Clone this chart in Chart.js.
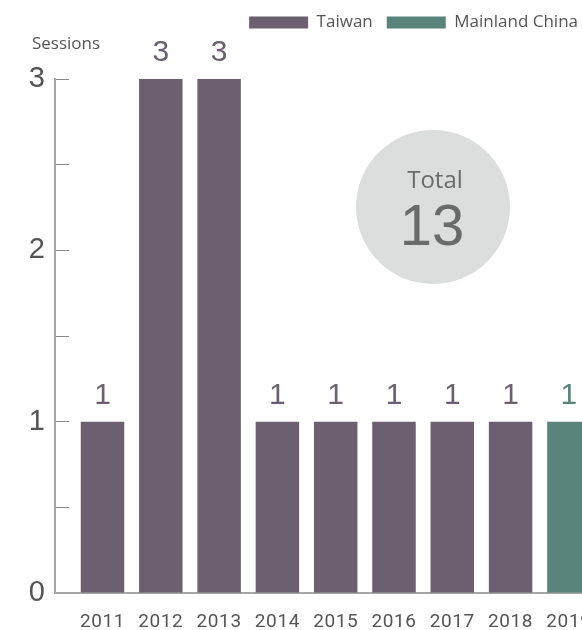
<!DOCTYPE html>
<html>
<head>
<meta charset="utf-8">
<script src="https://cdn.jsdelivr.net/npm/chart.js@4.4.1/dist/chart.umd.min.js"></script>
<style>
  html, body { margin: 0; padding: 0; background: #fff; }
  #wrap { width: 582px; height: 630px; position: relative; overflow: hidden; }
</style>
</head>
<body>
<div id="wrap"><canvas id="grafico" width="582" height="630"></canvas></div>
<script>
// Datos
const anios = [2011, 2012, 2013, 2014, 2015, 2016, 2017, 2018, 2019];
const taiwan = [1, 3, 3, 1, 1, 1, 1, 1, null];
const chinaContinental = [null, null, null, null, null, null, null, null, 1];
const ticksEje = [0, 1, 2, 3];

const colorTaiwan = "#6b5f70";
const colorChina = "#5a837b";

function puntos(valores) {
    return anios.map((a, i) => ({ x: a, y: valores[i] })).filter(p => p.y !== null);
}

// Más espacio debajo de la leyenda y leyenda algo más a la derecha
const margenLeyenda = {
    id: "margenLeyenda",
    beforeInit(chart) {
        const fitOriginal = chart.legend.fit;
        chart.legend.fit = function() {
            fitOriginal.bind(chart.legend)();
            this.height += 38;
        };
    },
    afterLayout(chart) {
        chart.legend.left += 10;
        chart.legend.right += 10;
        // un poco de espaciado entre letras en las etiquetas del eje x
        const ex = chart.scales.x;
        if (!ex._conEspaciado) {
            const dibujar = ex.drawLabels;
            ex.drawLabels = function(area) {
                chart.ctx.save();
                chart.ctx.letterSpacing = "0.6px";
                dibujar.call(this, area);
                chart.ctx.restore();
            };
            ex._conEspaciado = true;
        }
    }
};

// Etiquetas con el valor encima de cada barra
const etiquetasBarras = {
    id: "etiquetasBarras",
    afterDatasetsDraw(chart) {
        const ctx = chart.ctx;
        chart.data.datasets.forEach((ds, i) => {
            const meta = chart.getDatasetMeta(i);
            meta.data.forEach((bar, j) => {
                const p = ds.data[j];
                ctx.save();
                ctx.font = '30px "Liberation Sans"';
                ctx.fillStyle = ds.backgroundColor;
                ctx.textAlign = "center";
                ctx.textBaseline = "alphabetic";
                ctx.fillText(String(p.y), bar.x, bar.y - 18);
                ctx.restore();
            });
        });
    }
};

// Círculo con el total y el texto "Sessions"
const adornos = {
    id: "adornos",
    beforeDatasetsDraw(chart) {
        const ctx = chart.ctx;
        const total = taiwan.concat(chinaContinental).reduce((s, v) => s + (v || 0), 0);
        ctx.save();
        ctx.beginPath();
        ctx.arc(433, 207, 77, 0, Math.PI * 2);
        ctx.fillStyle = "#dcdddd";
        ctx.fill();
        ctx.fillStyle = "#6a6a6a";
        ctx.textAlign = "center";
        ctx.textBaseline = "alphabetic";
        ctx.font = '24px "Open Sans"';
        ctx.fillText("Total", 435, 188);
        ctx.font = '58px "Liberation Sans"';
        ctx.fillText(String(total), 432, 245);
        ctx.restore();

        ctx.save();
        ctx.fillStyle = "#555";
        ctx.font = '17px "Open Sans"';
        ctx.textAlign = "left";
        ctx.textBaseline = "alphabetic";
        ctx.fillText("Sessions", 32, 49);
        ctx.restore();
    }
};

const chart = new Chart(document.getElementById("grafico").getContext("2d"), {
    type: "bar",
    data: {
        datasets: [
            {
                label: "Taiwan",
                data: puntos(taiwan),
                backgroundColor: colorTaiwan,
                borderWidth: 0
            },
            {
                label: "Mainland China",
                data: puntos(chinaContinental),
                backgroundColor: colorChina,
                borderWidth: 0
            }
        ]
    },
    options: {
        responsive: false,
        animation: false,
        devicePixelRatio: 1,
        layout: { padding: { top: 0, left: 0, right: 0, bottom: 0 } },
        datasets: {
            bar: { grouped: false, categoryPercentage: 1, barPercentage: 0.746 }
        },
        plugins: {
            tooltip: { enabled: false },
            legend: {
                position: "top",
                align: "end",
                labels: {
                    boxWidth: 59,
                    boxHeight: 12,
                    padding: 14,
                    color: "#555",
                    font: { family: '"Open Sans"', size: 17 }
                }
            }
        },
        scales: {
            x: {
                type: "linear",
                offset: false,
                min: 2010.185,
                max: 2019.225,
                grid: { display: false, drawTicks: false },
                border: { display: true, color: "#a5a5a5", width: 2 },
                ticks: {
                    stepSize: 1,
                    includeBounds: false,
                    autoSkip: false,
                    maxRotation: 0,
                    padding: 18,
                    color: "#555",
                    font: { family: "Roboto", size: 19 },
                    callback: v => String(v)
                },
                afterFit(s) {
                    s.height = 37;
                    s.paddingLeft = 0;
                    s.paddingRight = 0;
                }
            },
            y: {
                min: 0,
                max: 3,
                grid: {
                    display: true,
                    drawOnChartArea: false,
                    drawTicks: true,
                    tickLength: -14,
                    color: "#8a8a8a",
                    lineWidth: 1
                },
                border: { display: true, color: "#a5a5a5", width: 2 },
                ticks: {
                    stepSize: 0.5,
                    padding: 24,
                    color: "#555",
                    font: { family: '"Liberation Sans"', size: 29 },
                    callback: v => ticksEje.includes(v) ? String(v) : ""
                },
                afterFit(s) {
                    s.width = 55;
                    s.paddingTop = 0;
                    s.paddingBottom = 0;
                }
            }
        }
    },
    plugins: [margenLeyenda, adornos, etiquetasBarras]
});
</script>
</body>
</html>
